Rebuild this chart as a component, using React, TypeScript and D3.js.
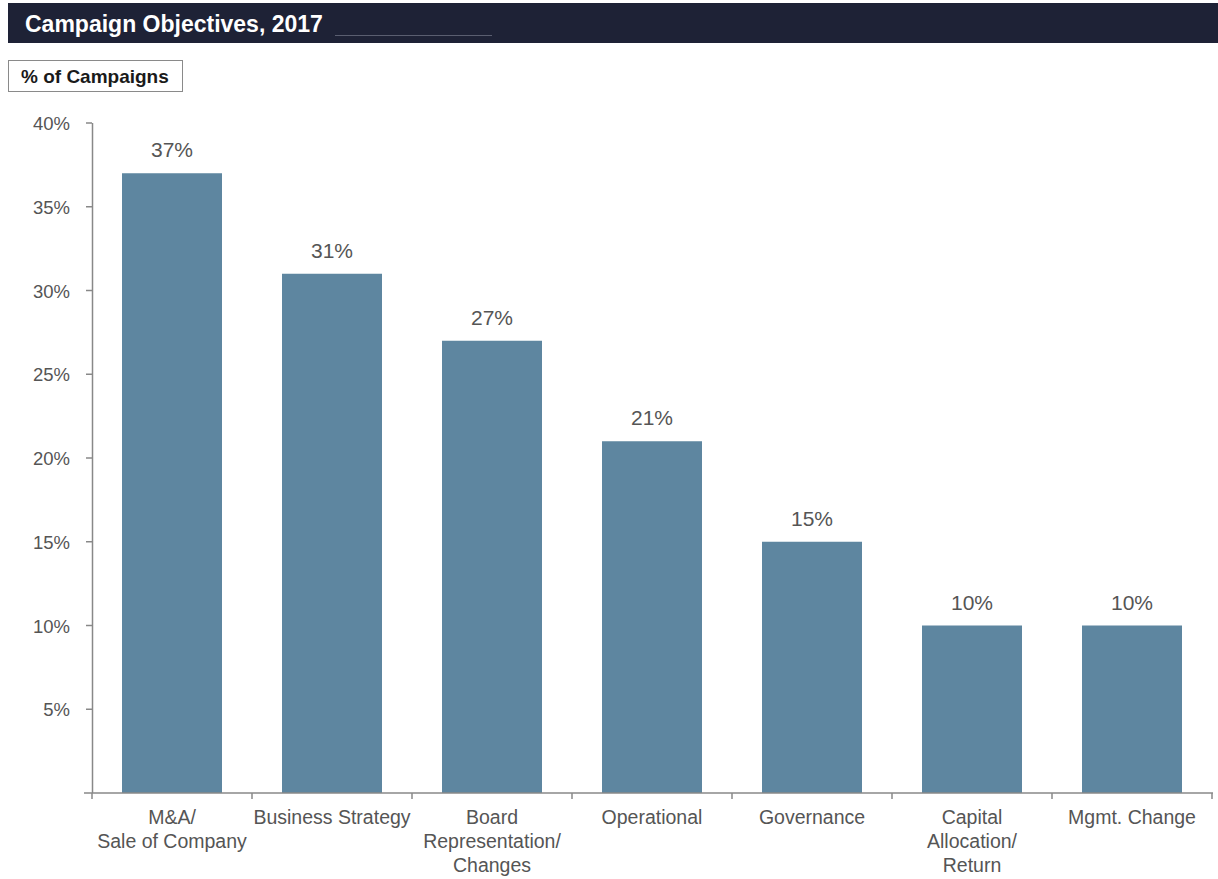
import React from "react";
import * as d3 from "d3";

const categories: string[][] = [
  ["M&A/", "Sale of Company"],
  ["Business Strategy"],
  ["Board", "Representation/", "Changes"],
  ["Operational"],
  ["Governance"],
  ["Capital", "Allocation/", "Return"],
  ["Mgmt. Change"],
];
const values: number[] = [37, 31, 27, 21, 15, 10, 10];
const yTicks: number[] = [5, 10, 15, 20, 25, 30, 35, 40];

const FONT = "'Liberation Sans', Arial, sans-serif";

export default function App() {
  const W = 1218;
  const H = 879;
  const x0 = 92, x1 = 1212, yTop = 123, yBot = 793;
  const x = d3
    .scaleBand<number>()
    .domain(values.map((_, i) => i))
    .range([x0, x1])
    .paddingInner(0.375)
    .paddingOuter(0.1875);
  const y = d3.scaleLinear().domain([0, 40]).range([yBot, yTop]);
  const step = x.step();
  const bandStart = (i: number) => x0 + i * step;

  return (
    <svg width={W} height={H} style={{ position: "absolute", left: 0, top: 0 }} fontFamily={FONT}>
      <rect x={0} y={0} width={W} height={H} fill="#fff" />
      {/* title bar */}
      <rect x={8} y={3} width={W - 8} height={40} fill="#1e2236" />
      <text x={25} y={32} fill="#fff" fontSize={23} fontWeight="bold">
        Campaign Objectives, 2017
      </text>
      <line x1={335} x2={492} y1={35.5} y2={35.5} stroke="#5a5e70" strokeWidth={1} />
      {/* subtitle box */}
      <rect x={8.5} y={60.5} width={174} height={31} fill="#fff" stroke="#8a8a8a" strokeWidth={1} />
      <text x={21} y={83} fill="#1a1a1a" fontSize={19} fontWeight="bold">
        % of Campaigns
      </text>
      {/* bars */}
      {values.map((v, i) => (
        <rect key={i} x={x(i)!} y={y(v)} width={x.bandwidth()} height={yBot - y(v)} fill="#5e86a0" />
      ))}
      {values.map((v, i) => (
        <text
          key={"v" + i}
          x={x(i)! + x.bandwidth() / 2}
          y={y(v) - 16}
          textAnchor="middle"
          fontSize={21}
          fill="#555"
        >
          {v}%
        </text>
      ))}
      {/* y axis */}
      <line x1={x0 + 0.5} x2={x0 + 0.5} y1={yTop} y2={yBot} stroke="#888" strokeWidth={1.5} />
      {yTicks.map((t) => (
        <g key={t}>
          <line x1={86} x2={x0} y1={y(t)} y2={y(t)} stroke="#888" strokeWidth={1.5} />
          <text x={70} y={y(t) + 7} textAnchor="end" fontSize={18.5} fill="#555">
            {t}%
          </text>
        </g>
      ))}
      {/* x axis */}
      <line x1={84} x2={x1 + 1} y1={yBot} y2={yBot} stroke="#888" strokeWidth={1.5} />
      {values.map((_, i) => (
        <line key={"t" + i} x1={bandStart(i)} x2={bandStart(i)} y1={yBot} y2={yBot + 6} stroke="#888" strokeWidth={1.5} />
      ))}
      <line x1={x1} x2={x1} y1={yBot} y2={yBot + 6} stroke="#888" strokeWidth={1.5} />
      {categories.map((lines, i) => (
        <text key={"c" + i} textAnchor="middle" fontSize={19.5} fill="#555">
          {lines.map((l, j) => (
            <tspan key={j} x={x(i)! + x.bandwidth() / 2} y={824 + j * 24}>
              {l}
            </tspan>
          ))}
        </text>
      ))}
    </svg>
  );
}
